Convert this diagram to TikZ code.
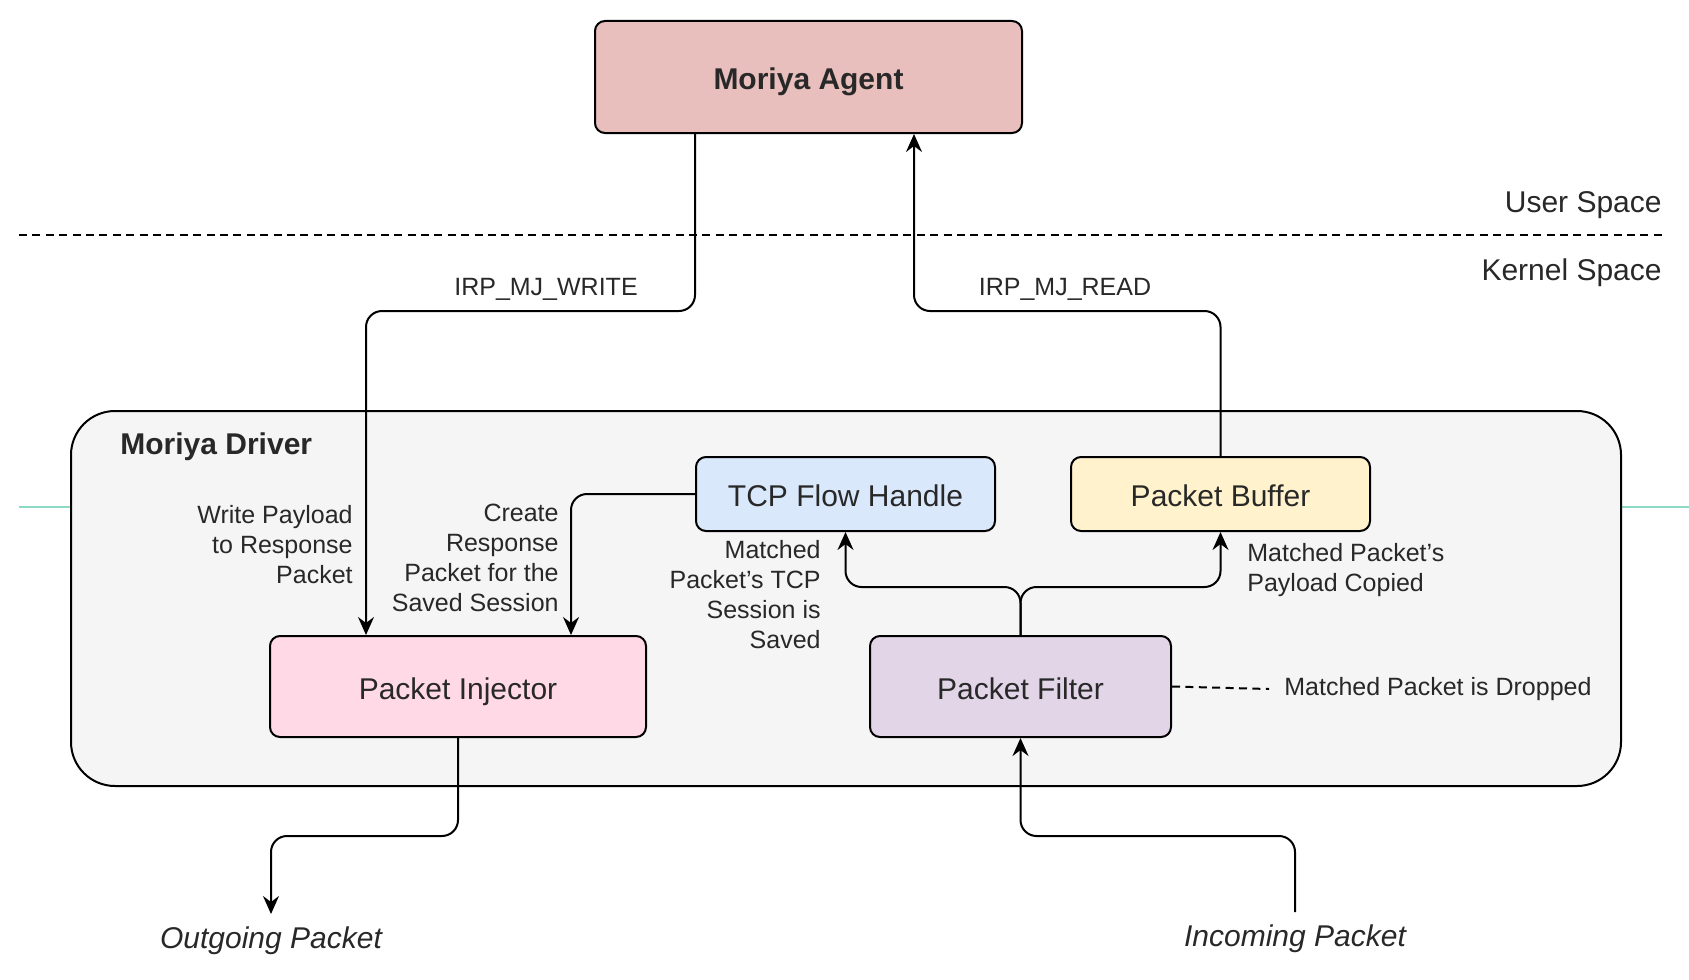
\documentclass[tikz,border=0pt]{standalone}
\usepackage{fontspec}
\setmainfont{Liberation Sans}
\usetikzlibrary{arrows.meta, positioning}
\definecolor{my_red}{RGB}{232, 191, 189}
\definecolor{my_pink}{RGB}{255, 217, 230}
\definecolor{my_lightblue}{RGB}{218, 232, 252}
\definecolor{my_yellow}{RGB}{255, 242, 204}
\definecolor{my_purple}{RGB}{225, 213, 231}
\definecolor{my_gray}{RGB}{245, 245, 245}
\definecolor{my_text}{RGB}{40, 40, 40}
\definecolor{my_teal}{RGB}{140, 218, 198}
\tikzset {
  bigbox/.style = {draw, line width=1pt, fill=my_gray, rounded corners=22pt, minimum width=775pt, minimum height=187.5pt},
  model/.style = {draw, line width=1pt, rounded corners=5pt, text centered, text=my_text, inner sep=0pt, text height=12.5pt, text depth=0pt, font=\fontsize{15}{18}\selectfont},
  title/.style = {text=my_text, inner sep=0pt, font=\fontsize{15}{18}\selectfont},
  note/.style = {text=my_text, inner sep=0pt, font=\fontsize{12.5}{15}\selectfont},
  line/.style = {-{Stealth[length=9pt, width=8pt, inset=3pt]}, line width=1pt, color=black, rounded corners=8pt},
  border/.style = {line width=1pt, dash pattern=on 4pt off 2.7pt}
}

\begin{document}
\begin{tikzpicture}[x=0.5pt, y=-0.5pt]
    \useasboundingbox (0,0) rectangle (1689,979);

    % user / kernel split
    \draw[border] (19,235) -- (1663,235);
    \node[title, anchor=east] (user) at (1662,205) {User Space};
    \node[title, anchor=east] (kernel) at (1662,273) {Kernel Space};

    % driver
    \draw[my_teal, line width=0.8pt] (19,507) -- (1689,507);
    \node[bigbox] (driver) at (846,598.5) {};
    \node[title, anchor=west, font=\bfseries\fontsize{15}{18}\selectfont] (drivername) at (120,447) {Moriya Driver};

    \node[model, fill=my_red, font=\bfseries\fontsize{15}{18}\selectfont, minimum width=213.5pt, minimum height=56pt] (agent) at (808.5,77) {Moriya Agent};
    \node[model, fill=my_lightblue, minimum width=149.5pt, minimum height=37pt] (tcp) at (845.5,494) {TCP Flow Handle};
    \node[model, fill=my_yellow, minimum width=149.5pt, minimum height=37pt] (buffer) at (1220.5,494) {Packet Buffer};
    \node[model, fill=my_pink, minimum width=188pt, minimum height=50.5pt] (injector) at (458,686.5) {Packet Injector};
    \node[model, fill=my_purple, minimum width=150.5pt, minimum height=50.5pt] (filter) at (1020.5,686.5) {Packet Filter};

    \node[title, anchor=north, font=\itshape\fontsize{15}{18}\selectfont] (outgoing) at (271,926) {Outgoing Packet};
    \node[title, anchor=north, font=\itshape\fontsize{15}{18}\selectfont] (incoming) at (1295,924) {Incoming Packet};

    \coordinate (wcol) at (366,311);
    \coordinate (rcol) at (914,311);
    \coordinate (ccol) at (571,494);
    \coordinate (fork) at (1020,587);
    \coordinate (lowrail) at (0,836);

    % IRP requests
    \draw[line] ([xshift=-56.75pt]agent.south) |- (wcol) -- (wcol |- injector.north);
    \draw[line] (buffer.north) |- (rcol) -- (rcol |- agent.south);
    \node[note] (write) at (546,289) {IRP\_MJ\_WRITE};
    \node[note] (read) at (1065,289) {IRP\_MJ\_READ};

    % inside the driver
    \draw[line] (tcp.west) -- (ccol) -- (ccol |- injector.north);
    \draw[line] (filter.north) |- (fork -| tcp.south) -- (tcp.south);
    \draw[line] (filter.north) |- (fork -| buffer.south) -- (buffer.south);
    \node[note, anchor=west] (dropped) at (1284,689) {Matched Packet is Dropped};
    \draw[border] (filter.east) -- ([xshift=-7.5pt]dropped.west);

    \node[note, anchor=east, align=right] (writenote) at (353,545) {Write Payload\\to Response\\Packet};
    \node[note, anchor=east, align=right] (createnote) at (559,557.5) {Create\\Response\\Packet for the\\Saved Session};
    \node[note, anchor=east, align=right] (savednote) at (821,595) {Matched\\Packet's TCP\\Session is\\Saved};
    \node[note, anchor=west, align=left] (copiednote) at (1247,570) {Matched Packet's\\Payload Copied};

    % packets in and out
    \draw[line] (injector.south) |- (lowrail -| outgoing.north) -- ([yshift=6pt]outgoing.north);
    \draw[line] ([yshift=6pt]incoming.north) |- (lowrail -| filter.south) -- (filter.south);
\end{tikzpicture}
\end{document}
